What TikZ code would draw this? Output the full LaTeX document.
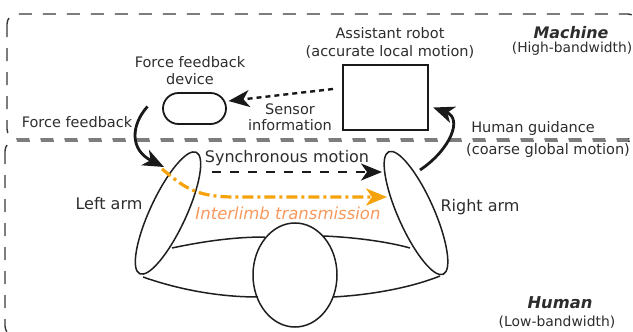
\documentclass[tikz,border=0pt]{standalone}
\usepackage{fontspec}
\setmainfont{DejaVu Sans}
\usetikzlibrary{arrows.meta,calc,shapes.geometric}
\definecolor{ink}{RGB}{45,45,45}
\definecolor{boxgray}{RGB}{55,55,55}
\definecolor{orangeline}{RGB}{245,162,12}
\definecolor{orangetext}{RGB}{248,152,92}

\begin{document}
\begin{tikzpicture}[x=1pt,y=-1pt,
  region/.style={draw=boxgray, line width=1.4pt, dash pattern=on 13pt off 11pt, rounded corners=10pt},
  lbl/.style={text=ink, inner sep=0pt, align=center, font=\fontsize{14.5}{17.5}\selectfont},
  biglbl/.style={text=ink, inner sep=0pt, align=center, font=\fontsize{16}{19}\selectfont},
  limb/.style={draw=black!88, line width=1.5pt},
  bigtip/.style={-{Stealth[length=21pt,width=17pt,inset=6pt]}},
  thickarrow/.style={bigtip, line width=2.8pt, draw=black!90},
]
\useasboundingbox (0,0) rectangle (633,332);

% the two regions
\draw[region] (7,14) rectangle (638,139);
\draw[region] (5,141) rectangle (638,336);

% machine side
\node[draw=black!90, line width=1.8pt, rounded corners=15.5pt, minimum width=63pt,
      minimum height=31pt, inner sep=0pt] (pill) at (194.5,108.5) {};
\node[draw=black!90, line width=2.4pt, minimum width=85pt, minimum height=65pt,
      inner sep=0pt] (robot) at (385.5,97.5) {};

\node[lbl] (ffdev) at (190,70.5) {Force feedback\\device};
\node[lbl] (robotlbl) at (390,43) {Assistant robot\\(accurate local motion)};
\node[lbl, font=\fontsize{14.5}{16}\selectfont] (sensor) at (290,117) {Sensor\\information};
\node[text=ink, inner sep=0pt, font=\fontsize{15.9}{18}\selectfont\bfseries\itshape] (machine) at (571,32.5) {Machine};
\node[text=ink, inner sep=0pt, font=\fontsize{13.8}{16}\selectfont] (machinebw) at (572,49) {(High-bandwidth)};
\node[lbl] (fflbl) at (77,122.5) {Force feedback};
\node[lbl] (guide) at (533,128) {Human guidance};
\node[lbl] (guide2) at (548,150) {(coarse global motion)};

% human side: arms and head
\node[limb, ellipse, minimum width=134pt, minimum height=36pt, inner sep=0pt, rotate=65] (larm) at (168,213) {};
\node[limb, ellipse, minimum width=134pt, minimum height=36pt, inner sep=0pt, rotate=-66] (rarm) at (416,213) {};
\node[limb, ellipse, minimum width=84pt, minimum height=104pt, inner sep=0pt] (head) at (295,275) {};

\draw[limb] ($(larm)+(4,35)$) .. controls +(33,-7) and +(-30,0) .. ($(head)+(-30,-38)$);
\draw[limb] ($(larm)+(-25,64)$) .. controls +(37,13) and +(-38,0) .. ($(head)+(-37,22)$);
\draw[limb] ($(head)+(28,-39)$) .. controls +(27,1) and +(-25,-7) .. ($(rarm)+(-6,35)$);
\draw[limb] ($(head)+(38,22)$) .. controls +(37,-2) and +(-30,12) .. ($(rarm)+(24,63)$);

\node[biglbl] (sync) at (287,158) {Synchronous motion};
\node[inner sep=0pt, text=orangetext, font=\fontsize{16.5}{19}\selectfont\itshape] (inter) at (288,213) {Interlimb transmission};
\node[biglbl] (leftlbl) at (109,204) {Left arm};
\node[biglbl] (rightlbl) at (480,207) {Right arm};
\node[text=ink, inner sep=0pt, font=\fontsize{16.3}{18}\selectfont\bfseries\itshape] (human) at (560,303) {Human};
\node[text=ink, inner sep=0pt, font=\fontsize{13.9}{16}\selectfont] (humanbw) at (557,322) {(Low-bandwidth)};

% connectors
\coordinate (ffs) at ($(pill)+(-47,-2)$);
\draw[thickarrow] (ffs) .. controls +(-17,19) and +(-34,-17) .. ($(larm)+(-4,-46)$);

\draw[thickarrow] ($(rarm)+(4,-43)$) .. controls +(30,-20) and +(30,11) .. ($(robot.east)+(4,10)$);

\draw[bigtip, line width=2.4pt, draw=black!90, dash pattern=on 5pt off 4pt]
  ($(robot)+(-52.5,-8.5)$) -- ($(pill)+(34,-7.5)$);

\coordinate (syncstart) at (212,172);
\draw[bigtip, line width=2.4pt, draw=black!90, dash pattern=on 9pt off 9pt]
  (syncstart) -- ($(rarm)+(-34,-41)$);

\draw[bigtip, draw=orangeline, line width=3.2pt,
      dash pattern=on 11pt off 4pt on 3pt off 4pt]
  ($(larm)+(-6,-44)$) .. controls +(22,18) and +(-40,0) .. ++(73,28) -- ($(rarm)+(-29,-16)$);
\end{tikzpicture}
\end{document}
